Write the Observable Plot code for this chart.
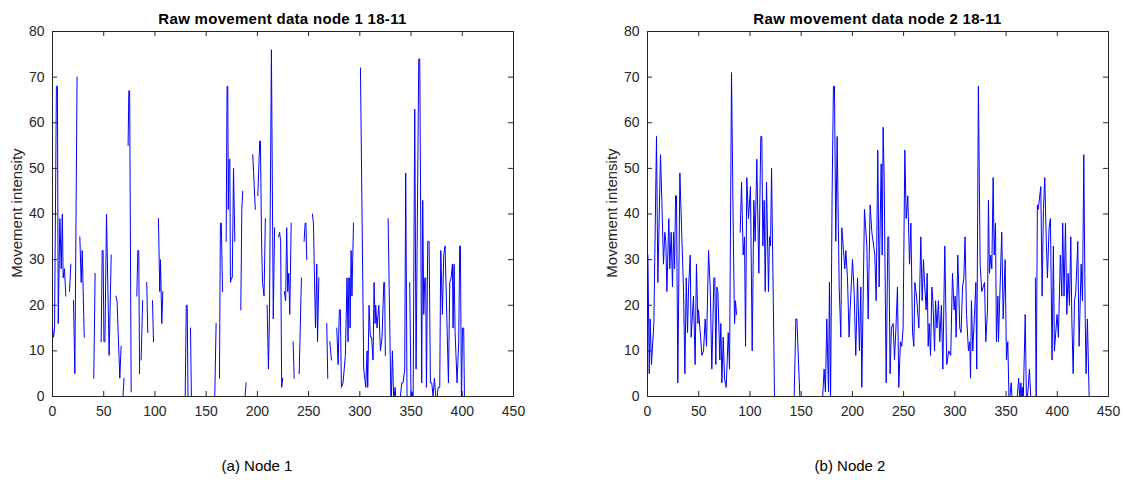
<!DOCTYPE html>
<html>
<head>
<meta charset="utf-8">
<script src="https://cdn.jsdelivr.net/npm/d3@7"></script>
<script src="https://cdn.jsdelivr.net/npm/@observablehq/plot@0.6"></script>
<style>
  html, body { margin: 0; padding: 0; background: #ffffff; }
  body { width: 1127px; height: 480px; position: relative; overflow: hidden;
         font-family: "Liberation Sans", Arial, Helvetica, sans-serif; }
  .panel { position: absolute; top: 0; }
  .title { position: absolute; top: 11px; width: 461px; text-align: center;
           font-size: 15px; line-height: 16px; font-weight: bold; color: #000; white-space: nowrap; letter-spacing: 0.3px; }
  .ylab { position: absolute; width: 365px; text-align: center; font-size: 15px; line-height: 16px;
          color: #262626; transform: rotate(-90deg); transform-origin: 50% 50%; white-space: nowrap; }
  .caption { position: absolute; top: 458px; width: 300px; text-align: center;
             font-size: 15px; line-height: 16px; color: #000; white-space: nowrap; }
</style>
</head>
<body>
<div id="p1" class="panel" style="left:0px"></div>
<div id="p2" class="panel" style="left:595px"></div>
<div class="title" style="left:52px">Raw movement data node 1 18-11</div>
<div class="title" style="left:647px">Raw movement data node 2 18-11</div>
<div class="ylab" style="left:-166px; top:205px">Movement intensity</div>
<div class="ylab" style="left:429px; top:205px">Movement intensity</div>
<div class="caption" style="left:107px">(a) Node 1</div>
<div class="caption" style="left:700px">(b) Node 2</div>
<script>
// ---- tick values ----
const xTicks = [0, 50, 100, 150, 200, 250, 300, 350, 400, 450];
const yTicks = [0, 10, 20, 30, 40, 50, 60, 70, 80];

// ---- series: [sample index, movement intensity]; null marks a gap in the record ----
const node1 = [
  [0,15],[1,13],[2,15],[3.8,68],[4.8,68],[5.6,16],[7.2,39],[8.5,28],[9.6,40],[10.4,26],[11.7,28],[13,22],null,
  [16.6,23],[17.9,29],null,
  [20.5,21],[21.8,5],[24,70],null,
  [26.7,35],[28,25],[29,32],[31,13],null,
  [40.3,4],[41.6,27],null,
  [47.5,12],[48.5,32],[49.4,32],[50.2,12],[51.2,12],[52.7,40],[55.3,9],[57.3,31],null,
  [62,22],[63,21],[65.7,4],[67,11],null,
  [68.8,0],[69.8,4],null,
  [73.8,55],[74.5,67],[75.3,67],[76.8,1],null,
  [82.3,22],[83.3,32],[84.2,32],[85,5],null,
  [86.5,8],[88,21],null,
  [92,25],[93,14],null,
  [97.6,21],[98.6,12],null,
  [103.4,39],[104.7,23],[105.4,30],[106.7,16],[107.7,23],null,
  [119,0],[126.5,0],null,
  [129.5,0],[130.6,20],[131.5,20],[132.4,-4],null,
  [134.7,15],[135.8,-4],null,
  [141.5,0],[158.4,0],[159.7,16],null,
  [163,4],[163.9,38],[164.8,38],[166,23],null,
  [169.5,34],[170.4,68],[171.1,68],[171.6,41],[172.4,52],[173.1,52],[173.7,25],[174.7,26],[175.5,26],[176.7,50],[178,34],null,
  [183.8,19],[184.8,41],[185.7,45],null,
  [188,0],[189,3],null,
  [195.5,53],[198,41],null,
  [200.4,44],[202.3,56],[203,56],[204,35],[205,25],[206.5,22],[207.8,39],null,
  [209.5,20],[210.8,6],[211.8,18],[213.7,76],[215.5,17],[216.8,37],null,
  [220.7,35],[221.7,36],[222.7,34],[223.7,2],[224.7,4],null,
  [226.3,23],[227.6,21],[228.6,37],[229.6,23],[230.6,27],[231.6,18],[233,38],null,
  [234.9,12],[235.9,4],null,
  [240.8,5],[243,26],null,
  [245.6,34],[246.6,38],[247.4,38],[248.2,30],null,
  [253.7,40],[254.7,38],[256.7,15],[258,29],[258.7,12],[260,26],null,
  [267.7,16],[268.7,4],null,
  [270.7,12],[272.3,8],null,
  [277.5,15],[278.8,7],[280,19],[281,19],[282,2],[283.6,3],[285.9,9],[287.5,26],[288.5,12],[289.2,26],[290,26],[290.5,15],[291.5,32],[292.3,22],[293.8,38],null,
  [300.6,72],[303.8,6],[305.8,2],[307.1,10],[307.7,2],[309,20],[310.3,13],[311.5,13],[312.9,8],[313.9,25],[314.9,16],[315.5,20],[316.8,15],[318.5,20],[320.1,10],[321.7,13],[323.4,25],[324.2,25],[324.9,9],null,
  [327.6,39],[330.5,-3],[331.8,10],[333.1,-1],[334.4,2],[335.7,-2],null,
  [339.6,0],[340.9,3],[342.2,3],[343.8,6],[344.8,49],[346.1,-2],null,
  [348.7,25],[350,-1],[351,1],[352,-1],[353.6,63],[354.9,6],[357.5,74],[358.5,74],[360.4,3],[361.4,43],[362.4,18],[363.4,26],[364.3,26],[365,2],[366.3,34],[367.6,34],[368.9,3],[370.2,3],[371.5,0],[372.8,4],[374.8,-2],[376.4,2],[378,2],[379,32],[380.6,18],[381.9,31],[383.2,33],[386.5,3],[387.8,25],[389.1,26],[390.4,29],[391,15],[392,29],[393,14],[394.9,3],[396.5,12],[397.5,33],[398.2,33],[399.2,-2],[400.2,15],[401.4,15],[402.1,0],[411.2,0]
];

const node2 = [
  [0.4,31],[1.7,5],[2.6,17],[3.9,7],[6.2,16],[8.8,57],[10.1,25],[12.7,53],[14,43],[15.6,29],[16.9,36],[17.9,34],[18.9,23],[20.8,39],[21.8,28],[23.1,36],[24.4,24],[25.4,36],[26.4,28],[27.4,44],[28.3,44],[29.6,3],[31.6,49],[33.5,35],[35.2,23],[36.5,5],[37.8,26],[39.1,14],[40.1,24],[41.7,31],[42.6,13],[44.9,22],[46.5,7],[47.8,29],[49.2,16],[49.8,19],[51.8,13],[53.1,9],[54.7,10],[56.3,17],[57.6,11],[59.6,32],[61.2,24],[62.8,6],[64.8,26],[65.7,26],[66.7,7],[67.7,24],[68.7,23],[70.6,8],[71.6,16],[72.6,3],[73.9,13],[75.2,4],[76.8,2],[78.8,14],[80.1,6],[82,71],[84,31],[85,16],[85.9,21],[86.9,18],null,
  [90.5,36],[91.8,47],[93.4,31],[94.7,35],[95.7,11],[96.9,48],[98.6,39],[100.5,46],[102.2,10],[103.8,43],[105.1,34],[106.7,52],[108.7,27],[110.6,57],[111.6,57],[112.6,33],[113.9,43],[114.9,23],[116.2,47],[118.1,23],[119.1,35],[120.1,33],[121.1,50],[124,0],[143.2,0],[144.8,17],[145.8,17],[148.7,0],[171,0],[172.4,6],[173.7,1],[175,17],[176.7,1],[177.6,25],[178.7,-1],[180.2,44],[181.5,68],[182.5,68],[183.8,34],[185.1,57],[187.1,24],[188.7,13],[189.7,37],[191.3,32],[192.6,28],[193.6,32],[195.2,26],[196.8,13],[197.8,19],[200.1,30],[201.7,23],[203.3,9],[205,26],[206.9,10],[208.2,24],[209.2,2],[211.8,41],[214.1,33],[215.4,17],[217.3,42],[219,36],[221.9,31],[223.2,21],[224.8,54],[226.1,24],[228.1,51],[229.1,31],[230,59],[231,48],[233,3],[234.6,35],[235.5,35],[236.8,5],[238.1,15],[239.8,16],[241.1,8],[242.5,15],[244,24],[245.3,2],[246.9,12],[248.2,11],[249.5,15],[251.2,54],[252.5,39],[254.1,44],[255.8,29],[257.1,38],[258.7,14],[260,11],[261,25],[262.6,22],[264.9,15],[266.8,35],[268.1,21],[269.4,30],[270.4,25],[272,19],[273,27],[274,11],[275,16],[276.3,9],[277.6,24],[278.6,21],[280.2,10],[281.2,21],[282.5,15],[284,21],[285.3,12],[286.9,20],[288.3,6],[290.2,33],[292.1,7],[294.1,10],[296,9],[297.7,27],[299.3,19],[300.3,22],[301.3,13],[302.9,31],[304.8,15],[306.1,14],[307.5,24],[308.8,26],[310,35],[311.4,18],[313.3,10],[314.6,12],[315.3,4],[316.2,21],[317.5,10],[319.2,18],[320.5,25],[321.4,6],[323,68],[324.7,29],[326.3,23],[329,25],[330.2,12],[331.9,19],[332.8,43],[333.8,27],[335.1,31],[336.1,28],[337.4,48],[338.4,31],[339.7,38],[340.6,12],[342,22],[342.6,12],[343.9,22],[345.8,36],[347.2,17],[349.1,30],[350.4,8],[351.7,12],[353,-2],[355,3],[356.3,-2],[358,0],[361,0],[362.3,4],[363.6,-1],[364.5,3],[365.3,-1],[366,2],[366.8,-1],[368.7,18],[369.9,-1],[371,0],[372.8,6],[374.5,-2],[377.5,0],null,
  [378.6,26],[379.4,-1],[380.6,42],[381.4,41],[383.9,46],[385.2,22],[386.5,41],[387.8,48],[389.4,33],[390.4,26],[392,37],[393.3,39],[394.9,8],[396.2,33],[397.2,10],[398.5,14],[399.8,18],[401.1,13],[403,31],[404.4,22],[405.3,38],[406.6,22],[408,38],[409.3,18],[410.6,27],[411.9,20],[413.2,35],[414.2,17],[415.5,5],[416.8,21],[418.1,23],[420,34],[421.3,11],[423.3,29],[424.6,21],[425.9,53],[427.2,18],[428.1,5],[429.4,17],[431.1,0],[440,0]
];

function rows(list) {
  return list.map(p => p ? {x: p[0], y: p[1]} : {x: NaN, y: NaN});
}

const axisColor = "#262626";

function panel(series) {
  const W = 532, H = 430, mL = 52, mR = 19, mT = 31, mB = 34;
  const plotW = W - mL - mR, plotH = H - mT - mB;
  const tick = 5;
  return Plot.plot({
    width: W, height: H,
    marginLeft: mL, marginRight: mR, marginTop: mT, marginBottom: mB,
    style: {fontFamily: '"Liberation Sans", Arial, Helvetica, sans-serif', fontSize: "14px", color: axisColor, background: "#ffffff"},
    x: {domain: [0, 450], ticks: xTicks, label: null},
    y: {domain: [0, 80], ticks: yTicks, label: null},
    marks: [
      Plot.frame({stroke: axisColor, strokeWidth: 1}),
      Plot.tickX(xTicks, {x: d => d, stroke: axisColor, insetTop: plotH - tick}),
      Plot.tickX(xTicks, {x: d => d, stroke: axisColor, insetBottom: plotH - tick}),
      Plot.tickY(yTicks, {y: d => d, stroke: axisColor, insetRight: plotW - tick}),
      Plot.tickY(yTicks, {y: d => d, stroke: axisColor, insetLeft: plotW - tick}),
      Plot.axisX(xTicks, {tickSize: 0, tickPadding: 10, fontSize: 14, label: null, fill: axisColor}),
      Plot.axisY(yTicks, {tickSize: 0, tickPadding: 8, fontSize: 14, label: null, fill: axisColor}),
      Plot.line(rows(series), {x: "x", y: "y", stroke: "#0000ff", strokeWidth: 1, clip: true})
    ]
  });
}

document.getElementById("p1").appendChild(panel(node1));
document.getElementById("p2").appendChild(panel(node2));
</script>
</body>
</html>
